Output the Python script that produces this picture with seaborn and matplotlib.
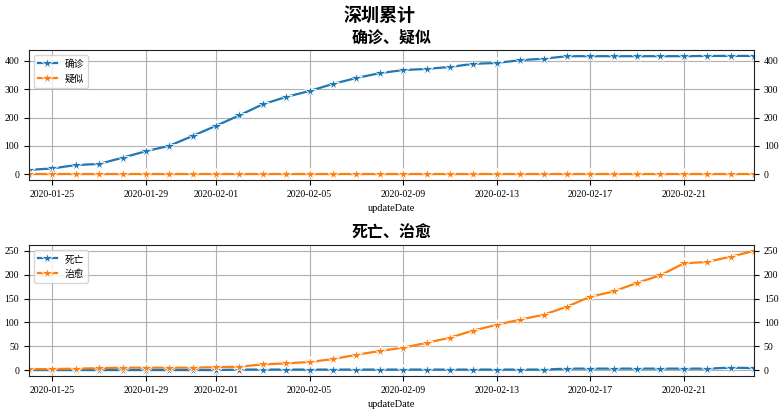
import matplotlib
matplotlib.use("Agg")
import matplotlib.pyplot as plt
import matplotlib.dates as mdates
import seaborn as sns
import pandas as pd
import numpy as np

dates = pd.date_range("2020-01-24", "2020-02-24", freq="D")

confirmed = [15, 20, 32, 36, 58, 81, 100, 135, 171, 208, 247, 273, 294, 319, 340, 357,
             368, 372, 379, 390, 393, 403, 408, 417, 417, 417, 417, 417, 417, 418, 418, 418]
suspected = [0] * 32
dead = [0, 0, 0, 0, 0, 0, 0, 0, 0, 1, 1, 1, 1, 1, 1, 1,
        1, 1, 1, 1, 1, 1, 1, 3, 3, 3, 3, 3, 3, 3, 5, 4]
cured = [2, 2, 3, 4, 5, 5, 5, 5, 6, 7, 12, 14, 17, 23, 32, 40,
         47, 57, 68, 83, 95, 106, 116, 133, 154, 165, 183, 199, 224, 227, 238, 250]

plt.rcParams['font.family'] = ['Liberation Serif', 'Noto Sans CJK SC', 'DejaVu Sans']
plt.rcParams['axes.unicode_minus'] = False

df1 = pd.DataFrame({"updateDate": np.concatenate([dates, dates]),
                    "value": confirmed + suspected,
                    "kind": ["确诊"] * 32 + ["疑似"] * 32})
df2 = pd.DataFrame({"updateDate": np.concatenate([dates, dates]),
                    "value": dead + cured,
                    "kind": ["死亡"] * 32 + ["治愈"] * 32})

fig = plt.figure(figsize=(7.82, 4.12), dpi=100)
ax1 = fig.add_axes([29/782, 1-180/412, (754-29)/782, 130/412])
ax2 = fig.add_axes([29/782, 1-376/412, (754-29)/782, 131/412])

palette = ["#1f77b4", "#ff7f0e"]
for ax, df, title in [(ax1, df1, "确诊、疑似"), (ax2, df2, "死亡、治愈")]:
    sns.lineplot(data=df, x="updateDate", y="value", hue="kind", palette=palette,
                 marker="*", markersize=8.5, markeredgewidth=0.6, linewidth=1.6,
                 errorbar=None, ax=ax)
    ax.set_xlim(dates[0], dates[-1])
    ax.xaxis.set_major_locator(mdates.DayLocator(bymonthday=range(1, 32, 4)))
    ax.xaxis.set_major_formatter(mdates.DateFormatter("%Y-%m-%d"))
    ax.grid(True, color="#b0b0b0", linewidth=0.8)
    ax.set_axisbelow(True)
    ax.tick_params(axis="both", labelsize=7, right=True, labelright=True)
    ax.set_ylabel("")
    ax.set_xlabel("updateDate", fontsize=7.5)
    ax.set_title(title, fontsize=11.5, fontweight="bold", pad=5,
                 family=['Noto Sans CJK SC'])
    leg = ax.legend(loc="upper left", prop={'family': ['Noto Sans CJK SC'], 'size': 7})
    for sp in ax.spines.values():
        sp.set_color("#222222")

fig.suptitle("深圳累计", fontsize=13, fontweight="bold", x=0.485, y=0.985,
             family=['Noto Sans CJK SC'])

fig.savefig("out.png", dpi=100)
